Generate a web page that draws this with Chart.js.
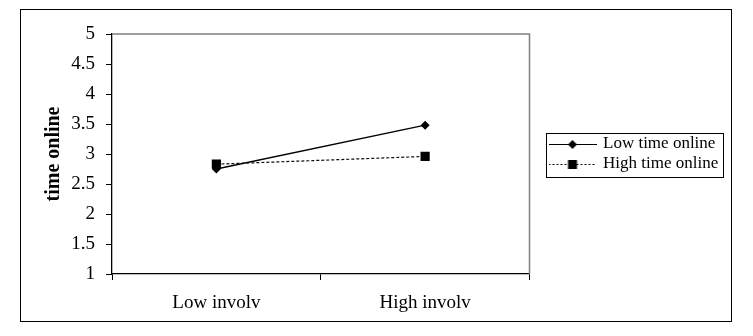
<!DOCTYPE html>
<html>
<head>
<meta charset="utf-8">
<script src="https://cdn.jsdelivr.net/npm/chart.js@4/dist/chart.umd.min.js"></script>
<style>
  html, body { margin: 0; padding: 0; background: #fff; }
  #wrap { width: 753px; height: 336px; }
</style>
</head>
<body>
<div id="wrap"><canvas id="lineChart"></canvas></div>
<script>
// data
const categories = ['Low involv', 'High involv'];
const seriesNames = ['Low time online', 'High time online'];
const lowTimeOnline = [2.75, 3.48];
const highTimeOnline = [2.83, 2.96];
const yTicks = [1, 1.5, 2, 2.5, 3, 3.5, 4, 4.5, 5];

const serif = "'Liberation Serif', 'Times New Roman', serif";

// little line + marker picture for the legend rows
function swatch(dashed, marker) {
  const c = document.createElement('canvas');
  c.width = 48;
  c.height = 14;
  const g = c.getContext('2d');
  g.strokeStyle = '#000';
  g.lineWidth = 1;
  if (dashed) g.setLineDash([2, 2]);
  g.beginPath();
  g.moveTo(0, 7.5);
  g.lineTo(48, 7.5);
  g.stroke();
  g.fillStyle = '#000';
  if (marker === 'diamond') {
    g.beginPath();
    g.moveTo(24, 3);
    g.lineTo(28.5, 7.5);
    g.lineTo(24, 12);
    g.lineTo(19.5, 7.5);
    g.closePath();
    g.fill();
  } else {
    g.fillRect(19.5, 3, 9, 9);
  }
  return c;
}
const swatches = [swatch(false, 'diamond'), swatch(true, 'square')];

// outer frame, grey plot border, legend box
const framePlugin = {
  id: 'frame',
  afterLayout(chart) {
    chart.legend.left += 18;
    chart.legend.right += 18;
  },
  beforeDraw(chart) {
    const ctx = chart.ctx;
    ctx.save();
    ctx.fillStyle = '#fff';
    ctx.fillRect(0, 0, chart.width, chart.height);
    ctx.strokeStyle = '#000';
    ctx.lineWidth = 1;
    ctx.strokeRect(20.5, 9.5, 711, 312);
    ctx.restore();
  },
  beforeDatasetsDraw(chart) {
    const a = chart.chartArea;
    const ctx = chart.ctx;
    ctx.save();
    ctx.strokeStyle = '#808080';
    ctx.lineWidth = 1.5;
    ctx.beginPath();
    ctx.moveTo(a.left, a.top);
    ctx.lineTo(a.right, a.top);
    ctx.lineTo(a.right, a.bottom);
    ctx.stroke();
    ctx.restore();
  },
  afterDraw(chart) {
    const lg = chart.legend;
    const pad = lg.options.labels.padding;
    const fontSize = lg.options.labels.font.size;
    const n = lg.legendItems.length;
    const itemW = Math.max(...lg.legendHitBoxes.map(h => h.width));
    const colH = n * (fontSize + pad);
    const y0 = (lg.top + pad + lg.bottom - colH) / 2;
    const x0 = lg.left + pad;
    const ctx = chart.ctx;
    ctx.save();
    ctx.strokeStyle = '#000';
    ctx.lineWidth = 1;
    ctx.strokeRect(Math.round(x0 - 5) + 0.5, Math.round(y0 - 3) + 0.5,
      Math.round(itemW + 9), Math.round(colH + 4));
    ctx.restore();
  }
};

new Chart(document.getElementById('lineChart'), {
  type: 'line',
  data: {
    labels: categories,
    datasets: [{
      label: seriesNames[0],
      data: lowTimeOnline,
      borderColor: '#000',
      backgroundColor: '#000',
      borderWidth: 1.3,
      pointStyle: 'rectRot',
      pointRadius: 4.5,
      pointBorderWidth: 0
    }, {
      label: seriesNames[1],
      data: highTimeOnline,
      borderColor: '#111',
      backgroundColor: '#000',
      borderWidth: 1.2,
      borderDash: [3, 2],
      pointStyle: 'rect',
      pointRadius: 6.5,
      pointBorderWidth: 0
    }]
  },
  options: {
    responsive: true,
    maintainAspectRatio: false,
    animation: false,
    layout: { padding: { left: 0, right: 47, top: 34, bottom: 0 } },
    plugins: {
      tooltip: { enabled: false },
      legend: {
        position: 'right',
        fullSize: false,
        labels: {
          usePointStyle: true,
          pointStyleWidth: 44,
          padding: 3,
          color: '#000',
          font: { family: serif, size: 17 },
          generateLabels(chart) {
            const items = Chart.defaults.plugins.legend.labels.generateLabels(chart);
            items.forEach(it => { it.pointStyle = swatches[it.datasetIndex]; });
            return items;
          }
        }
      }
    },
    scales: {
      x: {
        offset: true,
        afterFit(s) { s.height = 62; },
        grid: { offset: true, drawOnChartArea: false, tickLength: 6, color: '#000' },
        border: { color: '#000', width: 1.3 },
        ticks: { color: '#000', padding: 12, font: { family: serif, size: 19 } }
      },
      y: {
        min: 1,
        max: 5,
        afterFit(s) { s.width = 112; },
        afterBuildTicks(s) { s.ticks = yTicks.map(v => ({ value: v })); },
        grid: { drawOnChartArea: false, tickLength: 6, color: '#000' },
        border: { color: '#000', width: 1.3 },
        ticks: {
          color: '#000',
          padding: 11,
          font: { family: serif, size: 19 },
          callback: v => String(v)
        },
        title: {
          display: true,
          text: 'time online',
          color: '#000',
          padding: { top: 42, bottom: 0 },
          font: { family: serif, size: 20, weight: 'bold' }
        }
      }
    }
  },
  plugins: [framePlugin]
});
</script>
</body>
</html>
